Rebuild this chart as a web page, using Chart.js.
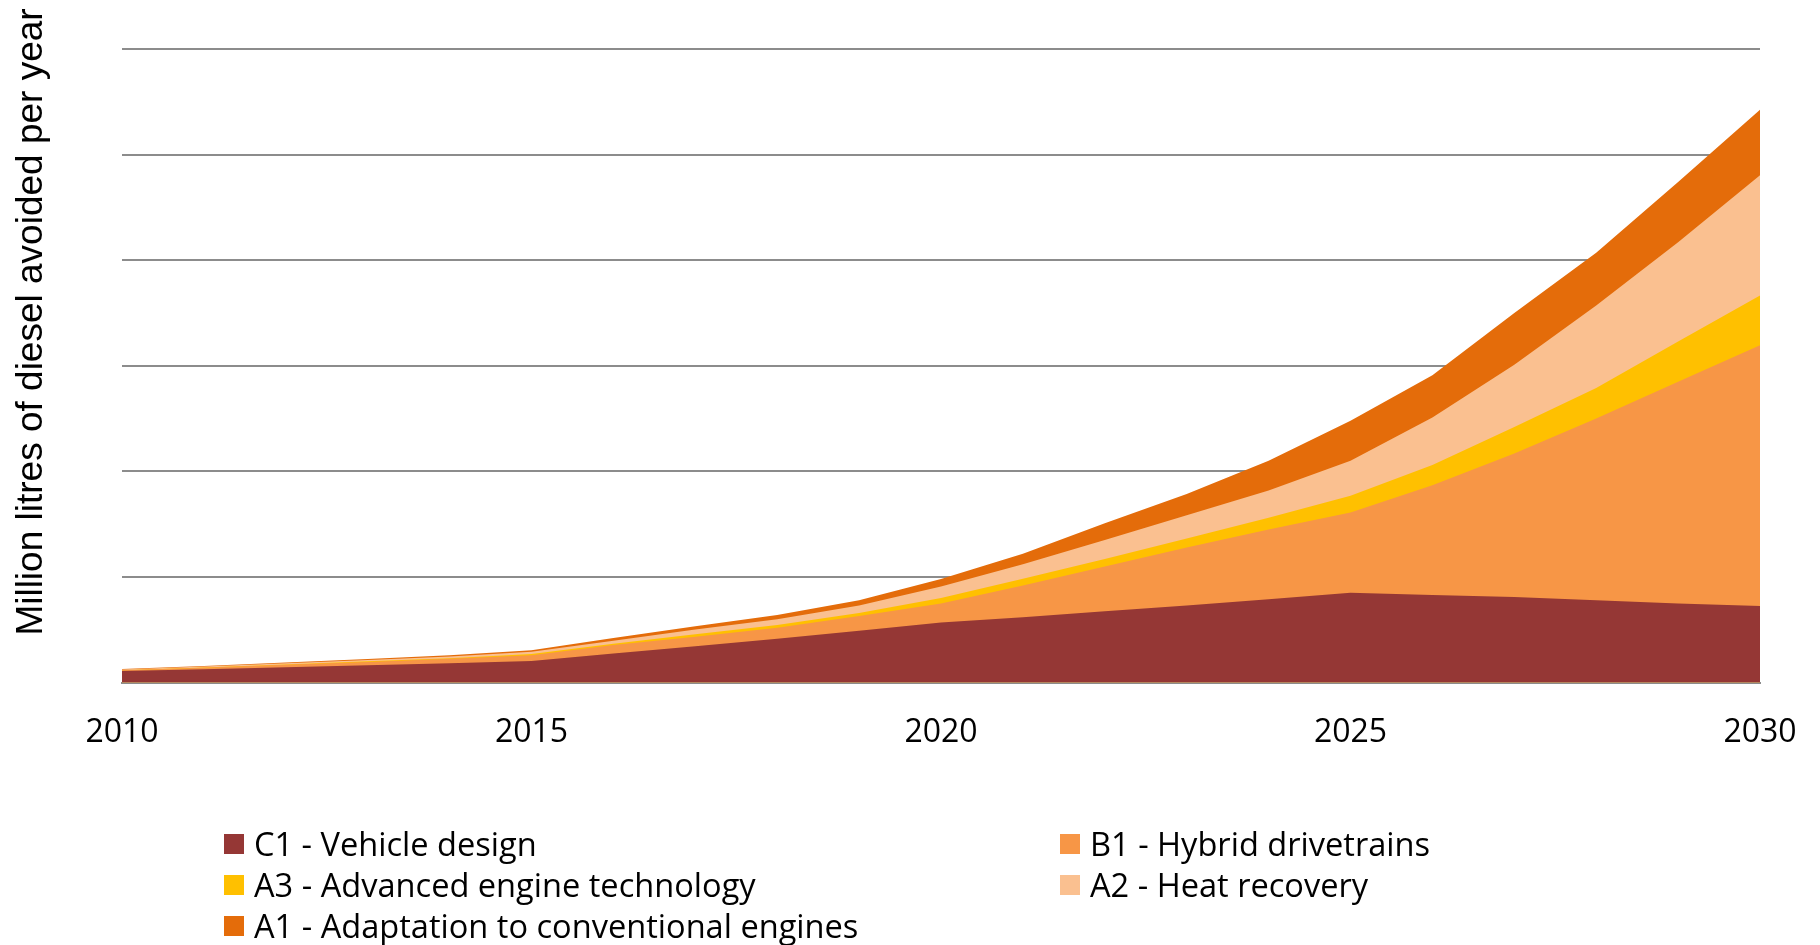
<!DOCTYPE html>
<html>
<head>
<meta charset="utf-8">
<title>Diesel avoided per year</title>
<script src="https://cdn.jsdelivr.net/npm/chart.js@4.4.1/dist/chart.umd.min.js"></script>
<style>
    html, body { margin: 0; padding: 0; background: #ffffff; overflow: hidden; }
    #wrap { position: relative; width: 1820px; height: 945px; }
    #legenda {
        position: absolute;
        left: 224px;
        top: 823px;
        display: grid;
        grid-template-columns: 836px auto;
        font-family: 'Open Sans', sans-serif;
        font-size: 32.6px;
        line-height: 41px;
        color: #000000;
    }
    .item { display: flex; align-items: center; white-space: nowrap; }
    .caja { width: 20px; height: 20px; margin-right: 10px; flex: none; }
</style>
</head>
<body>
<div id="wrap">
    <canvas id="graficoDiesel"></canvas>
    <div id="legenda"></div>
</div>
<script>
const years = ['2010', '2011', '2012', '2013', '2014', '2015', '2016', '2017', '2018', '2019', '2020',
    '2021', '2022', '2023', '2024', '2025', '2026', '2027', '2028', '2029', '2030'];

// million litres per year
const c1Vehicle = [11, 12.6, 14.5, 16.4, 18.3, 20.5, 27.5, 34.5, 41.5, 49, 57, 62, 67.5, 73, 79, 85, 83, 81, 78, 75, 72.5];
const b1Hybrid = [0.6, 1.5, 2.3, 3.2, 4.2, 5.5, 8, 9, 10.5, 14, 18, 30, 42.5, 55, 66, 76, 104, 136, 172, 210, 247];
const a3Advanced = [0.2, 0.3, 0.4, 0.5, 0.6, 1, 1.2, 2.2, 2.6, 3, 5, 6.4, 7, 8.5, 11, 16, 19, 25, 29, 38, 47];
const a2Heat = [0.7, 0.9, 1.1, 1.4, 1.7, 2.2, 3, 4.5, 5.5, 7, 11, 13.6, 18, 22, 26, 33, 45, 59, 78, 94, 114];
const a1Adaptation = [0.3, 0.5, 0.7, 0.9, 1.1, 1.5, 2.5, 3.2, 4, 5, 7, 10, 16, 20, 28, 38, 40, 49, 50, 57, 62];

const seriesNames = ['C1 - Vehicle design', 'B1 - Hybrid drivetrains', 'A3 - Advanced engine technology',
    'A2 - Heat recovery', 'A1 - Adaptation to conventional engines'];
const seriesColors = ['#953735', '#F79646', '#FFC000', '#FAC090', '#E46C0A'];
const seriesData = [c1Vehicle, b1Hybrid, a3Advanced, a2Heat, a1Adaptation];

const yTitle = 'Million litres of diesel avoided per year';
const yMax = 600;
const yStep = 100;

const yTitlePlugin = {
    id: 'yTitle',
    afterDraw(chart) {
        const ctx = chart.ctx;
        ctx.save();
        ctx.translate(42, 322);
        ctx.rotate(-Math.PI / 2);
        ctx.font = '37px "Liberation Sans", Arial, sans-serif';
        ctx.fillStyle = '#000000';
        ctx.textAlign = 'center';
        ctx.textBaseline = 'alphabetic';
        ctx.fillText(yTitle, 0, 0);
        ctx.restore();
    }
};

function renderLegend(chart) {
    const cont = document.getElementById('legenda');
    cont.innerHTML = '';
    chart.data.datasets.forEach(ds => {
        const item = document.createElement('div');
        item.className = 'item';
        item.innerHTML = `<span class="caja" style="background:${ds.backgroundColor}"></span><span>${ds.label}</span>`;
        cont.appendChild(item);
    });
}

function renderChart() {
    const ctx = document.getElementById('graficoDiesel').getContext('2d');
    const chart = new Chart(ctx, {
        type: 'line',
        data: {
            labels: years,
            datasets: seriesData.map((values, i) => ({
                label: seriesNames[i],
                data: values,
                backgroundColor: seriesColors[i],
                borderColor: seriesColors[i],
                borderWidth: 0,
                pointRadius: 0,
                tension: 0,
                fill: 'origin'
            }))
        },
        options: {
            responsive: true,
            maintainAspectRatio: false,
            animation: false,
            layout: { padding: { left: 122, right: 60, top: 49, bottom: 162 } },
            plugins: {
                legend: { display: false },
                tooltip: { enabled: false }
            },
            scales: {
                x: {
                    z: 1,
                    grid: { display: false, drawTicks: false },
                    border: { display: true, color: '#8c8c8c', width: 2 },
                    ticks: {
                        autoSkip: false,
                        maxRotation: 0,
                        padding: 31,
                        color: '#000000',
                        font: { family: "'Open Sans', sans-serif", size: 32 },
                        callback: (val, idx) => (idx % 5 === 0 ? years[idx] : '')
                    },
                    // labels may hang past the plot edge, the canvas has room for them
                    afterFit: scale => {
                        scale.paddingLeft = 0;
                        scale.paddingRight = 0;
                    }
                },
                y: {
                    stacked: true,
                    min: 0,
                    max: yMax,
                    ticks: { display: false, stepSize: yStep },
                    grid: { color: '#8c8c8c', lineWidth: 2, drawTicks: false },
                    border: { display: false }
                }
            }
        },
        plugins: [yTitlePlugin]
    });
    renderLegend(chart);
}

document.addEventListener('DOMContentLoaded', renderChart);
</script>
</body>
</html>
